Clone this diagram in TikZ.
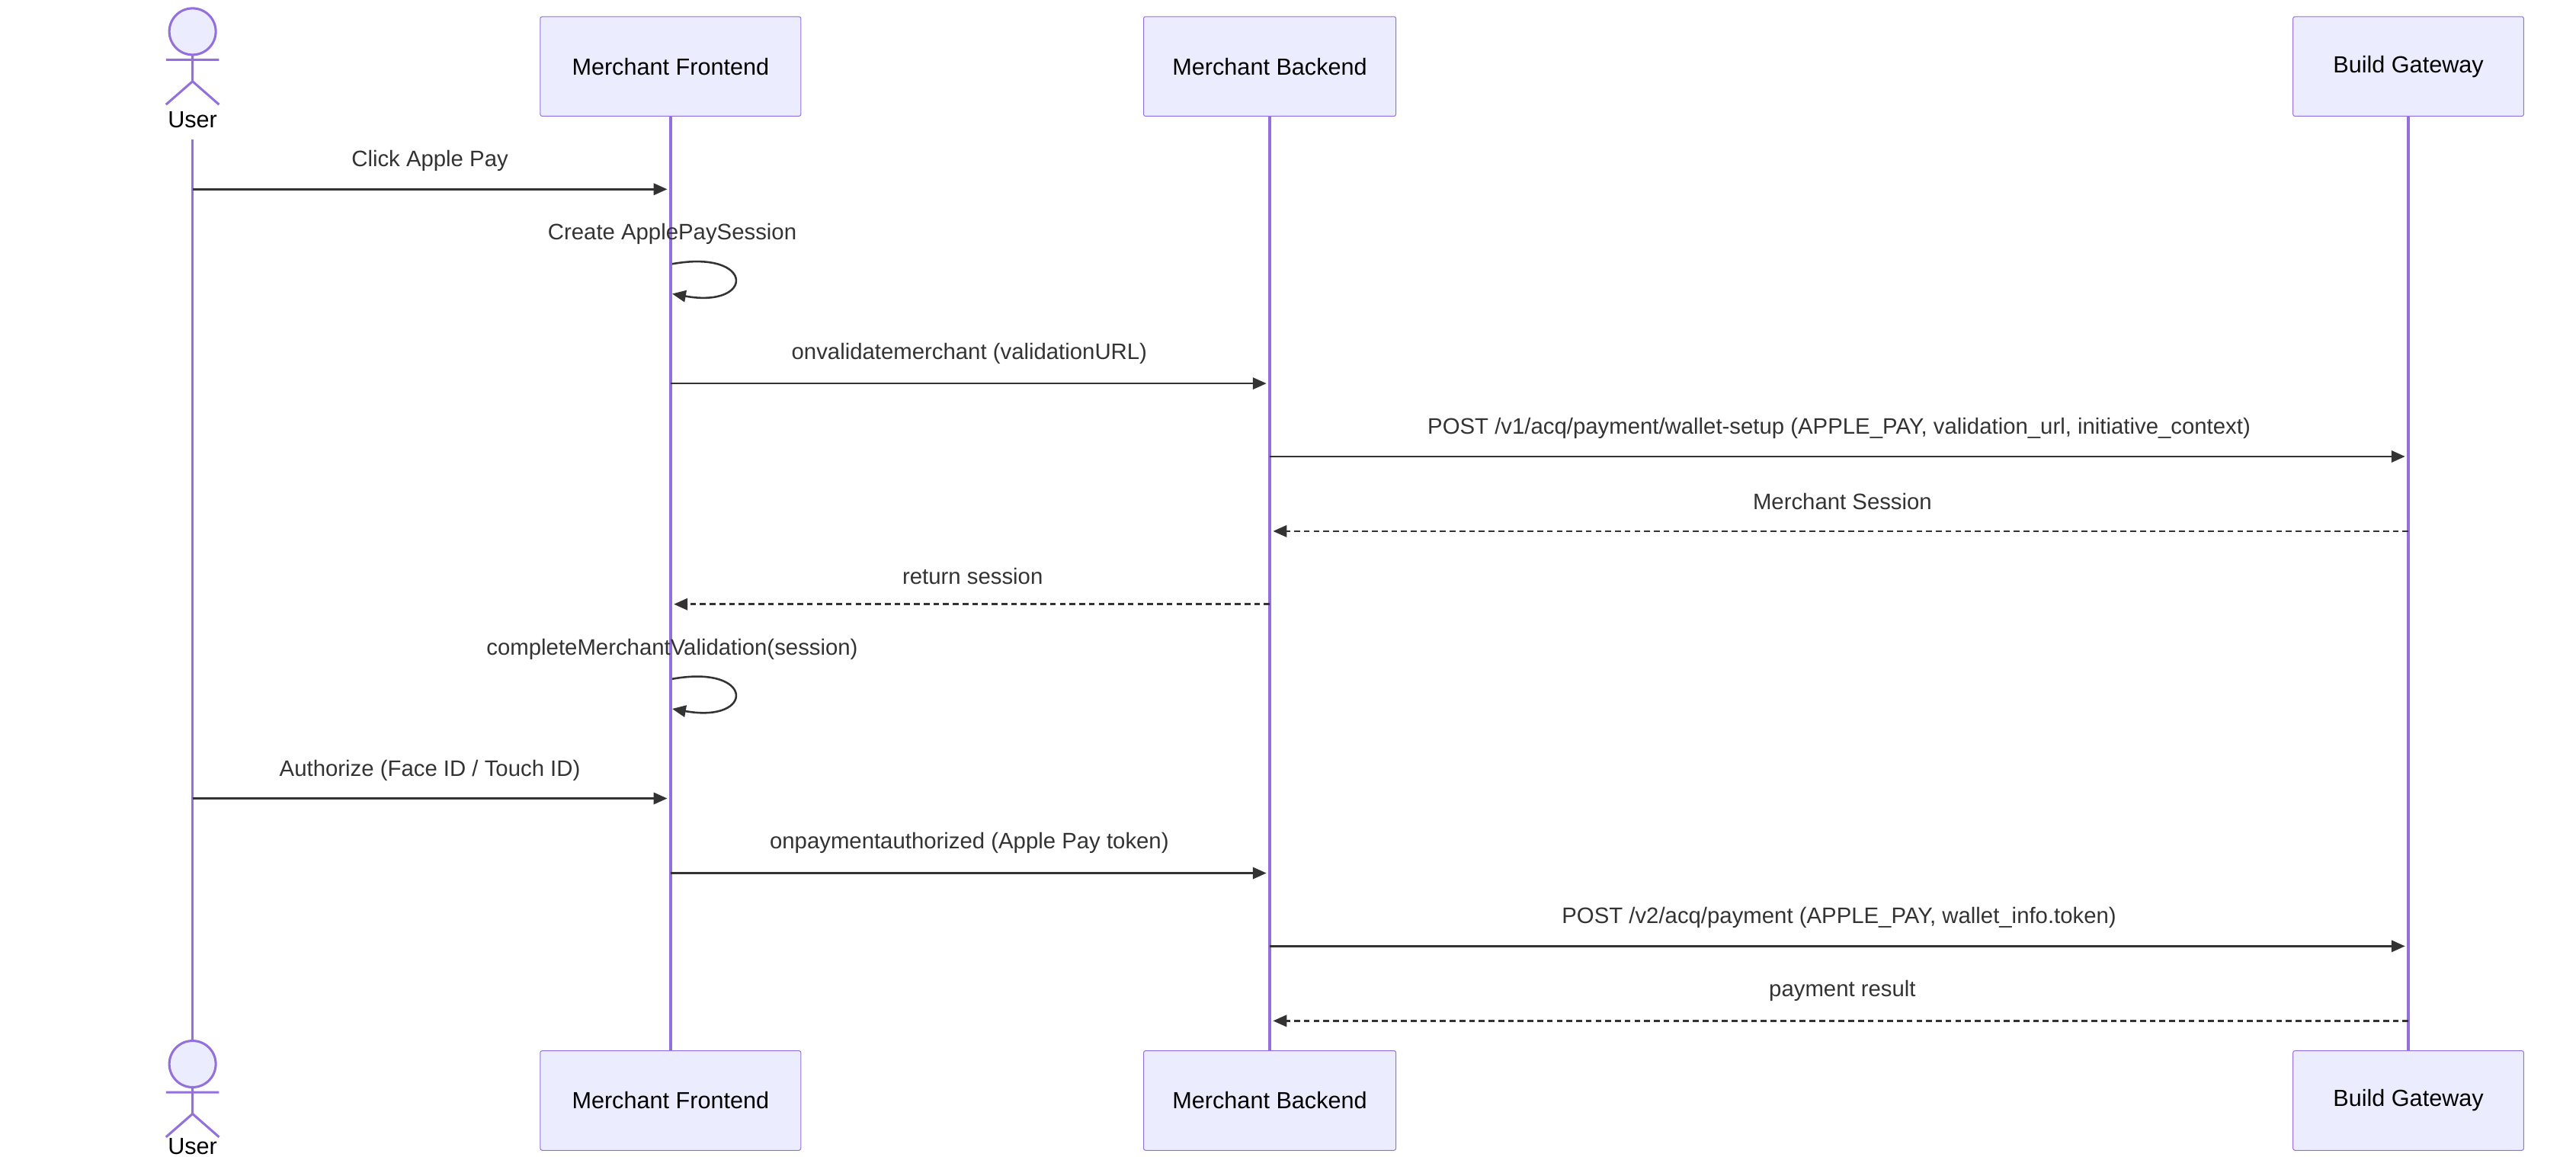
\documentclass[tikz,border=0pt]{standalone}
\usepackage{fontspec}
\setmainfont{Liberation Sans}
\usetikzlibrary{arrows.meta}
\definecolor{lifeln}{HTML}{9370DB}
\definecolor{boxfill}{HTML}{ECECFF}
\definecolor{msgcol}{HTML}{333333}
\tikzset{
  actorbox/.style={draw=lifeln, fill=boxfill, rounded corners=1pt, minimum height=60*0.03cm, font=\fontsize{12}{14}\selectfont, inner sep=0pt},
  lifeline/.style={draw=lifeln, line width=1.3pt},
  msg/.style={draw=msgcol, line width=1pt, -{Triangle[length=7pt,width=6pt]}},
  reply/.style={msg, dash pattern=on 3pt off 2pt},
  lbl/.style={font=\fontsize{11.5}{14}\selectfont, text=msgcol, inner sep=0pt},
  stick/.style={draw=lifeln, line width=1.2pt}
}
\newcommand{\stickman}[2]{% x, y of head centre
  \draw[stick, fill=boxfill] (#1,#2) circle (14);
  \draw[stick] (#1,#2+14) -- (#1,#2+30) (#1-16,#2+17) -- (#1+16,#2+17)
    (#1,#2+30) -- (#1-16,#2+44) (#1,#2+30) -- (#1+16,#2+44);
}
\begin{document}
\begin{tikzpicture}[x=0.03cm, y=-0.03cm]
\useasboundingbox (0,0) rectangle (1552,697);

% lifelines
\coordinate (u1) at (116,84);  \coordinate (u2) at (116,628);
\coordinate (f1) at (404,69);  \coordinate (f2) at (404,633);
\coordinate (b1) at (765,69);  \coordinate (b2) at (765,633);
\coordinate (g1) at (1451,69); \coordinate (g2) at (1451,633);
\draw[lifeline] (u1) -- (u2);
\draw[lifeline] (f1) -- (f2);
\draw[lifeline] (b1) -- (b2);
\draw[lifeline] (g1) -- (g2);

% participants
\stickman{116}{19}
\node[lbl, text=black, font=\fontsize{12}{14}\selectfont] (ut) at (116,72) {User};
\stickman{116}{641}
\node[lbl, text=black, font=\fontsize{12}{14}\selectfont, anchor=south] (ub) at (116,696) {User};
\node[actorbox, minimum width=157*0.03cm] (ft) at (404,40) {Merchant Frontend};
\node[actorbox, minimum width=152*0.03cm] (bt) at (765,40) {Merchant Backend};
\node[actorbox, minimum width=139*0.03cm] (gt) at (1451,40) {Build Gateway};
\node[actorbox, minimum width=157*0.03cm] (fb) at (404,663) {Merchant Frontend};
\node[actorbox, minimum width=152*0.03cm] (bb) at (765,663) {Merchant Backend};
\node[actorbox, minimum width=139*0.03cm] (gb) at (1451,663) {Build Gateway};

% messages
\coordinate (m1a) at (116,114); \coordinate (m1b) at (402,114);
\draw[msg] (m1a) -- (m1b);
\node[lbl] (l1) at (259,97) {Click Apple Pay};

\coordinate (s1a) at (405,159); \coordinate (s1b) at (405,177);
\draw[msg] (s1a) .. controls (455,150) and (455,186) .. (s1b);
\node[lbl] (l2) at (405,141) {Create ApplePaySession};

\coordinate (m3a) at (404,231); \coordinate (m3b) at (763,231);
\draw[msg] (m3a) -- (m3b);
\node[lbl] (l3) at (584,213) {onvalidatemerchant (validationURL)};

\coordinate (m4a) at (765,275); \coordinate (m4b) at (1449,275);
\draw[msg] (m4a) -- (m4b);
\node[lbl] (l4) at (1108,258) {POST /v1/acq/payment/wallet-setup (APPLE\_PAY, validation\_url, initiative\_context)};

\coordinate (m5a) at (1451,320); \coordinate (m5b) at (767,320);
\draw[reply] (m5a) -- (m5b);
\node[lbl] (l5) at (1110,302) {Merchant Session};

\coordinate (m6a) at (765,364); \coordinate (m6b) at (406,364);
\draw[reply] (m6a) -- (m6b);
\node[lbl] (l6) at (586,347) {return session};

\coordinate (s2a) at (405,409); \coordinate (s2b) at (405,427);
\draw[msg] (s2a) .. controls (455,400) and (455,436) .. (s2b);
\node[lbl] (l7) at (405,391) {completeMerchantValidation(session)};

\coordinate (m8a) at (116,481); \coordinate (m8b) at (402,481);
\draw[msg] (m8a) -- (m8b);
\node[lbl] (l8) at (259,464) {Authorize (Face ID / Touch ID)};

\coordinate (m9a) at (404,526); \coordinate (m9b) at (763,526);
\draw[msg] (m9a) -- (m9b);
\node[lbl] (l9) at (584,508) {onpaymentauthorized (Apple Pay token)};

\coordinate (m10a) at (765,570); \coordinate (m10b) at (1449,570);
\draw[msg] (m10a) -- (m10b);
\node[lbl] (l10) at (1108,553) {POST /v2/acq/payment (APPLE\_PAY, wallet\_info.token)};

\coordinate (m11a) at (1451,615); \coordinate (m11b) at (767,615);
\draw[reply] (m11a) -- (m11b);
\node[lbl] (l11) at (1110,597) {payment result};
\end{tikzpicture}
\end{document}
